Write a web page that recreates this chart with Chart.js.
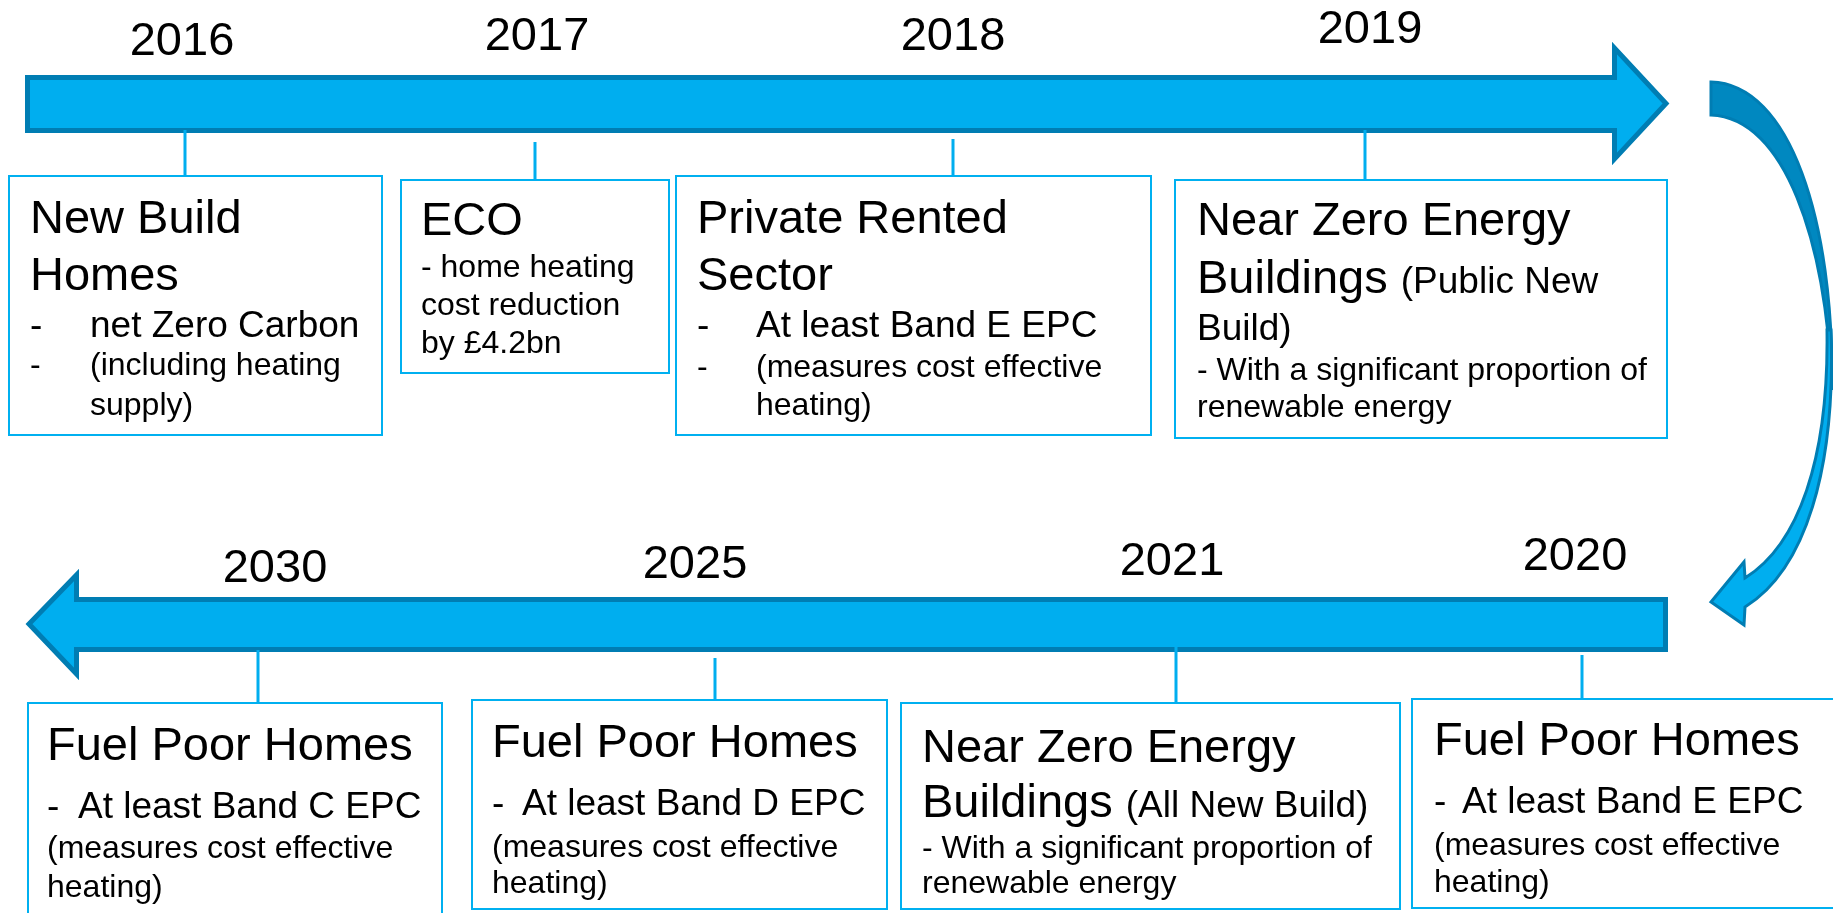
<!DOCTYPE html>
<html>
<head>
<meta charset="utf-8">
<title>Timeline</title>
<script src="https://cdn.jsdelivr.net/npm/chart.js@4.4.1/dist/chart.umd.min.js"></script>
<style>
  html, body { margin: 0; padding: 0; background: #fff; }
  #wrap { width: 1833px; height: 913px; position: relative; }
</style>
</head>
<body>
<div id="wrap"><canvas id="timeline"></canvas></div>
<script>
// milestones, top row left to right then bottom row left to right
const years = ['2016', '2017', '2018', '2019', '2030', '2025', '2021', '2020'];

// text of each box: a line is a list of runs [size, text]
// '-M' / '-S' = bullet dash, '>' = hanging indent
const notes = [
  [[['H', 'New Build']], [['H', 'Homes']], [['-M'], ['M', 'net Zero Carbon']], [['-S'], ['S', '(including heating']], [['>'], ['S', 'supply)']]],
  [[['H', 'ECO']], [['S', '- home heating']], [['S', 'cost reduction']], [['S', 'by £4.2bn']]],
  [[['H', 'Private Rented']], [['H', 'Sector']], [['-M'], ['M', 'At least Band E EPC']], [['-S'], ['S', '(measures cost effective']], [['>'], ['S', 'heating)']]],
  [[['H', 'Near Zero Energy']], [['H', 'Buildings '], ['M', '(Public New']], [['M', 'Build)']], [['S', '- With a significant proportion of']], [['S', 'renewable energy']]],
  [[['H', 'Fuel Poor Homes']], [['-M'], ['M', 'At least Band C EPC']], [['S', '(measures cost effective']], [['S', 'heating)']]],
  [[['H', 'Fuel Poor Homes']], [['-M'], ['M', 'At least Band D EPC']], [['S', '(measures cost effective']], [['S', 'heating)']]],
  [[['H', 'Near Zero Energy']], [['H', 'Buildings '], ['M', '(All New Build)']], [['S', '- With a significant proportion of']], [['S', 'renewable energy']]],
  [[['H', 'Fuel Poor Homes']], [['-M'], ['M', 'At least Band E EPC']], [['S', '(measures cost effective']], [['S', 'heating)']]],
];

// layout on a 1833 x 913 value grid
const slots = [
  { box: [9, 176, 382, 435], stem: [185, 130, 176], label: [182, 55], textX: 30, indent: 60, base: [233, 290, 337, 375, 415] },
  { box: [401, 180, 669, 373], stem: [535, 142, 180], label: [537, 50], textX: 421, indent: 0, base: [235, 277, 315, 353] },
  { box: [676, 176, 1151, 435], stem: [953, 139, 176], label: [953, 50], textX: 697, indent: 59, base: [233, 290, 337, 377, 415] },
  { box: [1175, 180, 1667, 438], stem: [1365, 130, 180], label: [1370, 43], textX: 1197, indent: 0, base: [235, 293, 340, 380, 417] },
  { box: [28, 703, 442, 930], stem: [258, 650, 703], label: [275, 582], textX: 47, indent: 31, base: [760, 818, 858, 897] },
  { box: [472, 700, 887, 909], stem: [715, 658, 700], label: [695, 578], textX: 492, indent: 30, base: [757, 815, 857, 893] },
  { box: [901, 703, 1400, 909], stem: [1176, 647, 703], label: [1172, 575], textX: 922, indent: 0, base: [762, 817, 858, 893] },
  { box: [1412, 699, 1850, 908], stem: [1582, 655, 699], label: [1575, 570], textX: 1434, indent: 28, base: [755, 813, 855, 892] },
];

const FONT = { H: 47, M: 37, S: 32 };
const FAMILY = '"Liberation Sans", Arial, sans-serif';
const BLUE = '#00AEEF';
const DARK = '#007DB3';

const topArrow = [[27.5, 77.5], [1614.5, 77.5], [1614.5, 48], [1666, 103.5], [1614.5, 159], [1614.5, 130.5], [27.5, 130.5]];
const bottomArrow = [[1665.5, 599.5], [76.5, 599.5], [76.5, 575], [29, 624], [76.5, 674], [76.5, 649.5], [1665.5, 649.5]];

const stems = slots.map(s => ({
  data: [{ x: s.stem[0], y: s.stem[1] }, { x: s.stem[0], y: s.stem[2] }],
  showLine: true,
  borderColor: BLUE,
  borderWidth: 3,
  pointRadius: 0,
}));

const diagram = {
  id: 'diagram',
  beforeDatasetsDraw(chart) {
    const { ctx } = chart;
    const X = v => chart.scales.x.getPixelForValue(v);
    const Y = v => chart.scales.y.getPixelForValue(v);

    const poly = (pts, fill, stroke, lw) => {
      ctx.beginPath();
      pts.forEach(([x, y], i) => (i ? ctx.lineTo(X(x), Y(y)) : ctx.moveTo(X(x), Y(y))));
      ctx.closePath();
      ctx.fillStyle = fill;
      ctx.fill();
      ctx.lineWidth = lw;
      ctx.strokeStyle = stroke;
      ctx.lineJoin = 'miter';
      ctx.stroke();
    };

    ctx.save();
    poly(topArrow, BLUE, DARK, 5);
    poly(bottomArrow, BLUE, DARK, 5);

    // curved connector, back (dark) part
    ctx.beginPath();
    ctx.moveTo(X(1711), Y(82));
    ctx.bezierCurveTo(X(1790), Y(84), X(1834), Y(220), X(1832), Y(390));
    ctx.bezierCurveTo(X(1826), Y(240), X(1785), Y(118), X(1711), Y(115));
    ctx.closePath();
    ctx.fillStyle = '#0088C0';
    ctx.fill();
    ctx.lineWidth = 3;
    ctx.strokeStyle = DARK;
    ctx.stroke();

    // curved connector, front part with head
    ctx.beginPath();
    ctx.moveTo(X(1831), Y(330));
    ctx.bezierCurveTo(X(1836), Y(470), X(1805), Y(570), X(1745), Y(607));
    ctx.lineTo(X(1744), Y(625));
    ctx.lineTo(X(1711), Y(602));
    ctx.lineTo(X(1744), Y(562));
    ctx.lineTo(X(1745), Y(578));
    ctx.bezierCurveTo(X(1798), Y(545), X(1829), Y(460), X(1827), Y(330));
    ctx.closePath();
    ctx.fillStyle = BLUE;
    ctx.fill();
    ctx.stroke();

    // boxes
    ctx.lineWidth = 2;
    ctx.strokeStyle = '#00B0F0';
    slots.forEach(s => {
      const [x1, y1, x2, y2] = s.box;
      ctx.strokeRect(X(x1), Y(y1), X(x2) - X(x1), Y(y2) - Y(y1));
    });
    ctx.restore();
  },
  afterDatasetsDraw(chart) {
    const { ctx } = chart;
    const X = v => chart.scales.x.getPixelForValue(v);
    const Y = v => chart.scales.y.getPixelForValue(v);
    ctx.save();
    ctx.fillStyle = '#000';
    ctx.textBaseline = 'alphabetic';

    years.forEach((yr, i) => {
      const [lx, ly] = slots[i].label;
      ctx.font = `${FONT.H}px ${FAMILY}`;
      ctx.textAlign = 'center';
      ctx.fillText(yr, X(lx), Y(ly));
    });

    ctx.textAlign = 'left';
    notes.forEach((lines, i) => {
      const s = slots[i];
      lines.forEach((runs, li) => {
        let x = X(s.textX);
        const y = Y(s.base[li]);
        runs.forEach(([tag, text]) => {
          if (tag[0] === '-') {
            ctx.font = `${FONT[tag[1]]}px ${FAMILY}`;
            ctx.fillText('-', X(s.textX), y);
            x = X(s.textX + s.indent);
          } else if (tag === '>') {
            x = X(s.textX + s.indent);
          } else {
            ctx.font = `${FONT[tag]}px ${FAMILY}`;
            ctx.fillText(text, x, y);
            x += ctx.measureText(text).width;
          }
        });
      });
    });
    ctx.restore();
  },
};

new Chart(document.getElementById('timeline'), {
  type: 'scatter',
  data: { datasets: stems },
  options: {
    responsive: true,
    maintainAspectRatio: false,
    animation: false,
    events: [],
    layout: { padding: 0 },
    plugins: { legend: { display: false }, tooltip: { enabled: false } },
    scales: {
      x: { type: 'linear', min: 0, max: 1833, display: false },
      y: { type: 'linear', min: 0, max: 913, reverse: true, display: false },
    },
  },
  plugins: [diagram],
});
</script>
</body>
</html>
